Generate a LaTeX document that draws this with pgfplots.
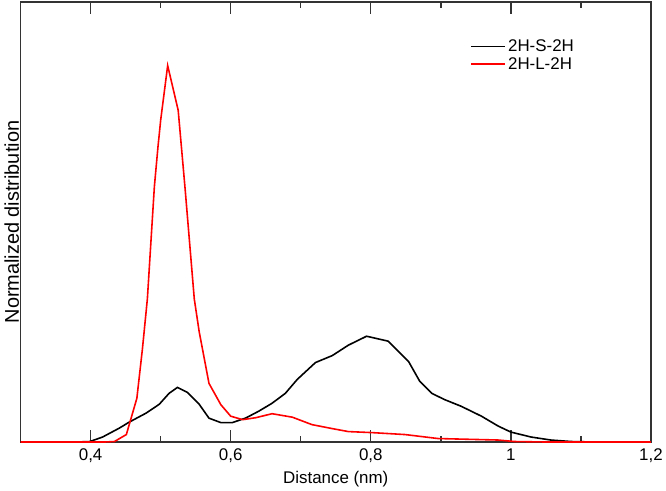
\documentclass[border=0pt]{standalone}
\usepackage{pgfplots}
\pgfplotsset{compat=1.18}
\usepackage{fontspec}
\setmainfont{Liberation Sans}

\pgfplotstableread{
x h
0.30 0
0.38 0
0.399 0.5
0.417 5
0.441 14
0.455 20
0.479 29
0.498 38
0.512 49
0.524 55
0.538 50
0.555 38
0.569 24
0.586 19.5
0.602 19.5
0.621 24
0.640 31
0.659 39
0.678 49
0.695 63
0.721 80
0.745 87
0.768 97.5
0.794 106.5
0.825 101.5
0.854 81
0.870 61
0.887 49
0.906 42.5
0.929 36
0.958 26
0.982 16
1.0 10
1.029 5
1.057 2
1.086 0.5
1.12 0
1.2 0
}\shortdata

\pgfplotstableread{
x h
0.30 0
0.42 0
0.434 0.5
0.451 7.5
0.466 44
0.474 94
0.481 144
0.491 257
0.496 296
0.500 324
0.510 379
0.525 334
0.535 254
0.548 144
0.555 111
0.569 59
0.586 37.5
0.600 26
0.617 22.5
0.636 24.5
0.659 28.5
0.688 25
0.716 17.5
0.745 13.5
0.768 10.5
0.801 9.5
0.849 7.5
0.896 3.5
0.982 2
1.005 0.5
1.05 0
1.2 0
}\longdata

\definecolor{axgray}{HTML}{333333}

\begin{document}
\begin{tikzpicture}
\begin{axis}[
  scale only axis,
  width=633.6pt, height=442.3pt,
  xmin=0.3, xmax=1.2,
  ymin=0, ymax=443,
  xtick={0.4,0.6,0.8,1,1.2},
  ytick=\empty,
  major tick length=0pt,
  axis line style={axgray, line width=1.3pt},
  unbounded coords=jump,
  /pgf/number format/use comma,
  /pgf/number format/assume math mode=true,
  ticklabel style={font=\fontsize{17}{20}\selectfont},
  xticklabel style={yshift=-3pt},
  xlabel={Distance (nm)},
  ylabel={Normalized distribution},
  xlabel style={font=\fontsize{17}{20}\selectfont, at={(axis description cs:0.5,0)}, anchor=north, yshift=-26pt},
  ylabel style={font=\fontsize{20}{23}\selectfont, at={(axis description cs:0,0.5)}, anchor=center, yshift=9pt},
  legend style={draw=none, fill=none, at={(rel axis cs:0.709,0.923)}, anchor=north west,
    font=\fontsize{17}{20}\selectfont, row sep=0pt},
  legend cell align=left,
  legend image code/.code={\draw[#1] (0pt,0pt) -- (25pt,0pt); \path (0pt,0pt) -- (34pt,0pt);},
]
% tick marks as short segments, bottom and top
\addplot[axgray, line width=1.4pt, forget plot] coordinates {
  (0.4,0) (0.4,12) (nan,nan) (0.6,0) (0.6,12) (nan,nan)
  (0.8,0) (0.8,12) (nan,nan) (1.0,0) (1.0,12) (nan,nan)
  (0.5,0) (0.5,6) (nan,nan) (0.7,0) (0.7,6) (nan,nan)
  (0.9,0) (0.9,6) (nan,nan) (1.1,0) (1.1,6) (nan,nan)
  (0.4,443) (0.4,431) (nan,nan) (0.6,443) (0.6,431) (nan,nan)
  (0.8,443) (0.8,431) (nan,nan) (1.0,443) (1.0,431) (nan,nan)
  (0.5,443) (0.5,437) (nan,nan) (0.7,443) (0.7,437) (nan,nan)
  (0.9,443) (0.9,437) (nan,nan) (1.1,443) (1.1,437)
};
\addplot[black, line width=1.6pt] table[x=x, y=h] {\shortdata};
\addlegendentry{2H-S-2H}
\addplot[red, line width=1.6pt] table[x=x, y=h] {\longdata};
\addlegendentry{2H-L-2H}
\end{axis}
\path (current axis.south west) ++(-20.7pt,-45.7pt) rectangle ++(666pt,490pt);
\end{tikzpicture}
\end{document}
